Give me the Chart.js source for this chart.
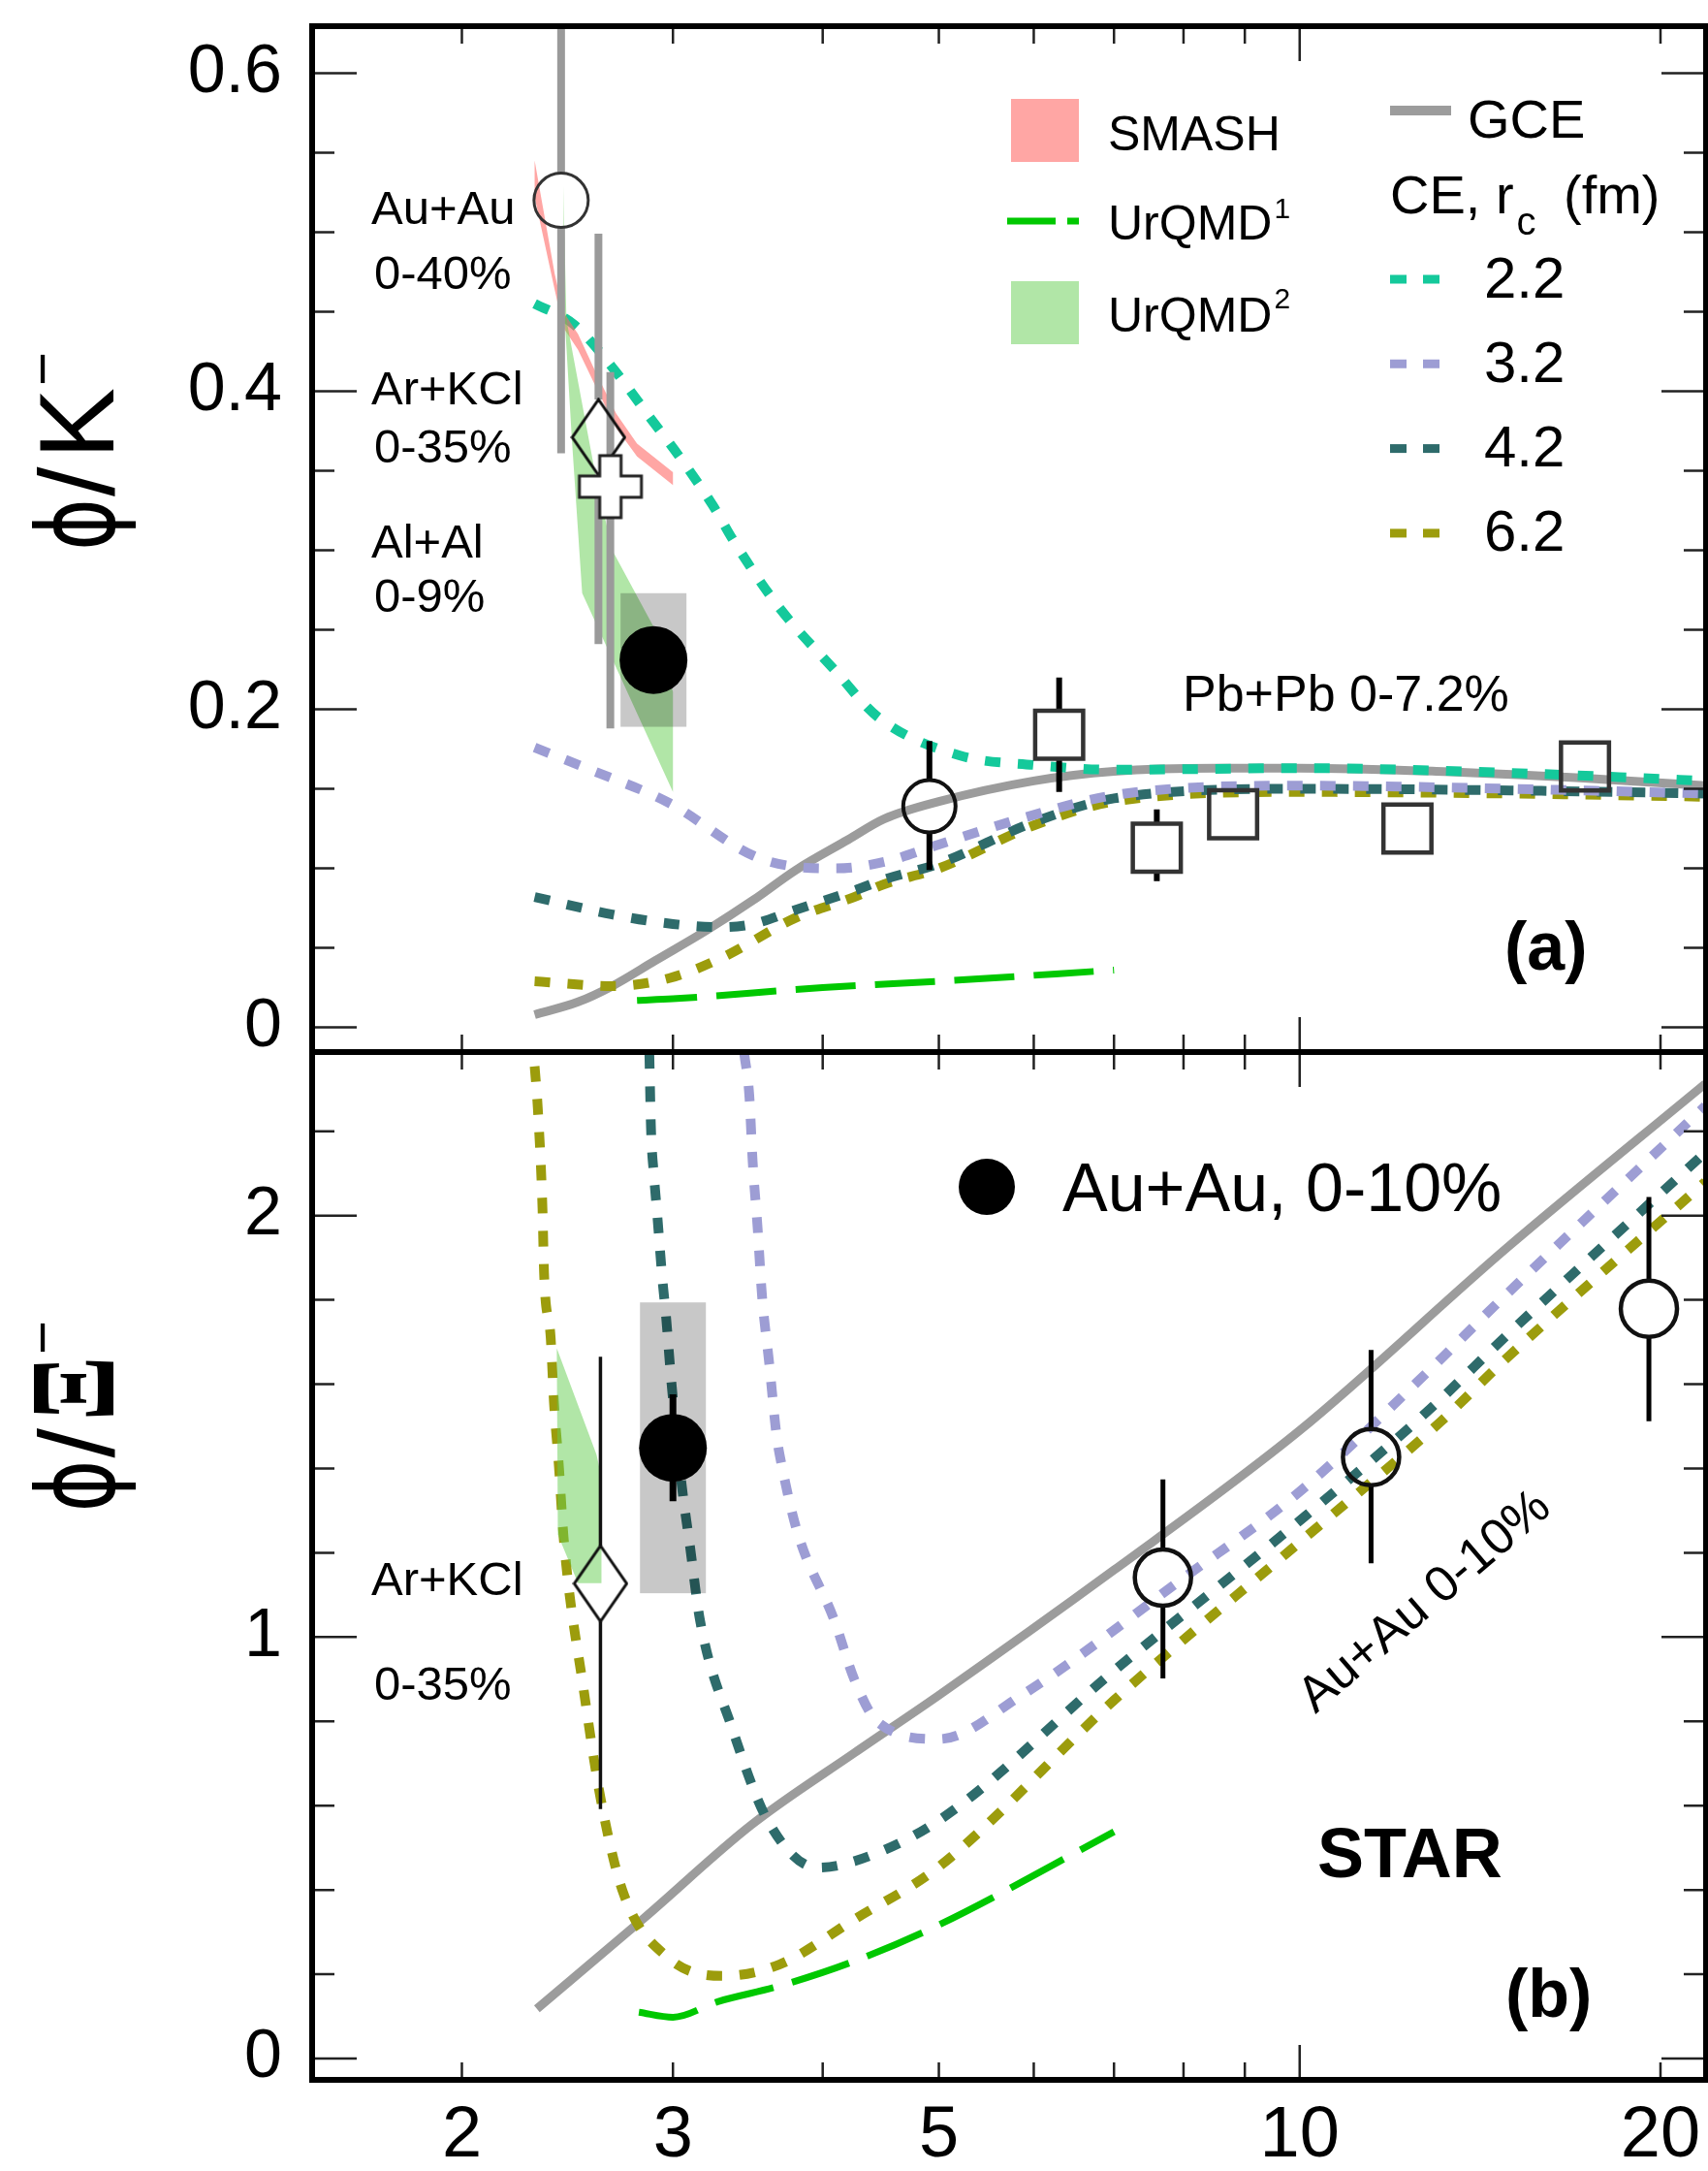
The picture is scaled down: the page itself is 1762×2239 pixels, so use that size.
<!DOCTYPE html>
<html>
<head>
<meta charset="utf-8">
<title>phi/K- and phi/Xi- versus collision energy</title>
<script src="https://cdn.jsdelivr.net/npm/chart.js@4.4.1/dist/chart.umd.min.js"></script>
<style>
  html, body { margin: 0; padding: 0; background: #fff; }
  #wrap { position: relative; width: 1762px; height: 2239px; background: #fff; }
  #top { position: absolute; left: 0; top: 0; }
  #bottom { position: absolute; left: 0; top: 1085px; }
</style>
</head>
<body>
<div id="wrap">
  <canvas id="top" width="1762" height="1085"></canvas>
  <canvas id="bottom" width="1762" height="1154"></canvas>
</div>
<script>
const FONT = "'Liberation Sans', Arial, Helvetica, sans-serif";
Chart.defaults.font.family = FONT;
Chart.defaults.color = '#000';

// sqrt(s_NN) axis (GeV), shared by both panels
const xTicks = [2, 3, 4, 5, 6, 7, 8, 9, 10, 20];
const xLabelled = [2, 3, 5, 10, 20];

// ---- panel (a): phi/K- ----
const yTicksA = [0, 0.05, 0.1, 0.15, 0.2, 0.25, 0.3, 0.35, 0.4, 0.45, 0.5, 0.55, 0.6];
const yLabelsA = { '0': '0', '0.2': '0.2', '0.4': '0.4', '0.6': '0.6' };

const gceA = [[2.30,0.008],[2.50,0.016],[2.67,0.026],[2.90,0.042],[3.20,0.061],[3.50,0.080],[3.80,0.099],[4.20,0.118],[4.50,0.131],[5.00,0.142],[6.00,0.155],[7.00,0.161],[8.50,0.163],[10,0.163],[13,0.161],[17,0.157],[21.8,0.152]];
const ce22A = [[2.30,0.455],[2.48,0.442],[2.67,0.415],[2.88,0.382],[3.03,0.360],[3.24,0.328],[3.37,0.306],[3.67,0.265],[4.10,0.224],[4.45,0.195],[5.20,0.171],[6.00,0.165],[7.00,0.162],[10,0.163],[15,0.160],[21.8,0.155]];
const ce32A = [[2.30,0.176],[2.54,0.163],[2.98,0.141],[3.50,0.108],[3.80,0.101],[4.10,0.100],[4.50,0.104],[5.00,0.115],[5.90,0.132],[7.00,0.146],[10,0.152],[15,0.150],[21.8,0.147]];
const ce42A = [[2.30,0.082],[2.67,0.071],[3.00,0.065],[3.30,0.063],[3.50,0.065],[3.80,0.074],[4.25,0.086],[4.50,0.093],[5.00,0.103],[6.00,0.129],[7.00,0.144],[10,0.150],[15,0.149],[21.8,0.147]];
const ce62A = [[2.30,0.029],[2.67,0.026],[2.98,0.031],[3.30,0.044],[3.80,0.069],[4.25,0.082],[4.50,0.090],[5.00,0.100],[6.00,0.127],[7.00,0.142],[10,0.148],[15,0.147],[21.8,0.145]];
const urqmd1A = [[2.80,0.017],[3.00,0.018],[4.00,0.025],[5.00,0.029],[7.00,0.036]];
const smashHiA = [[2.30,0.545],[2.39,0.474],[2.43,0.450],[2.50,0.436],[2.59,0.411],[2.69,0.386],[2.80,0.367],[3.00,0.349]];
const smashLoA = [[2.30,0.522],[2.39,0.464],[2.43,0.440],[2.50,0.426],[2.59,0.402],[2.69,0.377],[2.80,0.359],[3.00,0.341]];
const urqmd2HiA = [[2.43,0.529],[2.445,0.445],[2.59,0.344],[2.67,0.300],[2.89,0.252],[3.00,0.211]];
const urqmd2LoA = [[2.435,0.450],[2.47,0.371],[2.52,0.273],[3.00,0.148]];

// measurements: [x, y, low, high]
const auauA = [[2.42, 0.520, 0.361, 0.679]];
const arkclA = [[2.60, 0.371, 0.241, 0.499]];
const alalA = [[2.66, 0.340, 0.188, 0.412]];
const e917A = [[4.91, 0.139, 0.099, 0.180]];
const pbpbA = [[6.30,0.184,0.148,0.220],[7.60,0.113,0.092,0.137],[8.80,0.134,0.124,0.144],[12.3,0.125,0.115,0.135],[17.3,0.164,0.156,0.172]];
const starA = [[2.89, 0.231]];
const starSysA = [[2.89, 0.189, 0.273]];

// ---- panel (b): phi/Xi- ----
const yTicksB = [0, 0.2, 0.4, 0.6, 0.8, 1, 1.2, 1.4, 1.6, 1.8, 2, 2.2];
const yLabelsB = { '0': '0', '1': '1', '2': '2' };

const gceB = [[2.31,0.118],[2.84,0.334],[3.49,0.555],[4.25,0.725],[5.00,0.862],[7.00,1.159],[10,1.490],[14.9,1.924],[21.8,2.313]];
const ce32B = [[3.44,2.385],[3.474,2.285],[3.496,2.131],[3.53,1.970],[3.56,1.809],[3.61,1.648],[3.66,1.480],[3.70,1.403],[3.81,1.249],[4.09,1.040],[4.25,0.900],[4.44,0.800],[5.00,0.758],[5.84,0.859],[8.00,1.140],[10,1.345],[12.5,1.602],[14.9,1.815],[21.8,2.260]];
const ce42B = [[2.867,2.385],[2.876,2.208],[2.893,2.093],[2.911,2.001],[2.94,1.848],[2.96,1.763],[2.99,1.610],[3.05,1.364],[3.10,1.215],[3.16,1.040],[3.36,0.785],[3.60,0.564],[3.96,0.453],[4.25,0.468],[5.00,0.565],[7.00,0.920],[10,1.276],[12.8,1.537],[14.9,1.717],[21.8,2.150]];
const ce62B = [[2.30,2.354],[2.314,2.255],[2.335,2.016],[2.342,1.864],[2.372,1.710],[2.387,1.556],[2.41,1.403],[2.432,1.234],[2.529,0.869],[2.612,0.614],[2.727,0.393],[2.97,0.240],[3.30,0.196],[3.68,0.223],[4.25,0.330],[5.00,0.455],[7.00,0.850],[10,1.225],[13.1,1.510],[14.9,1.663],[21.8,2.080]];
const urqmd1B = [[2.81,0.110],[3.00,0.098],[3.27,0.135],[3.68,0.172],[4.25,0.231],[5.00,0.317],[7.00,0.538]];
const urqmd2HiB = [[2.40,1.685],[2.59,1.433],[2.615,1.380]];
const urqmd2LoB = [[2.405,1.243],[2.50,1.128],[2.615,1.128]];

const arkclB = [[2.61, 1.127, 0.592, 1.665]];
const auauB = [[7.69,1.141,0.902,1.374],[11.47,1.427,1.175,1.681],[19.56,1.779,1.512,2.044]];
const starB = [[3.00, 1.449, 1.322, 1.576]];
const starSysB = [[3.00, 1.104, 1.794]];

// colours
const C_GCE = '#9c9c9c';
const C_CE22 = '#14c99b';
const C_CE32 = '#9d9dd4';
const C_CE42 = '#2e6b6b';
const C_CE62 = '#9c9c0c';
const C_URQMD1 = '#00c800';
const C_SMASH = 'rgba(255,107,103,0.6)';
const C_URQMD2 = 'rgba(100,205,80,0.5)';
const C_SYS = '#c8c8c8';
const C_HADES = '#9a9a9a';

const CE_DASH = [16, 18];
const CE_WIDTH = 10;

const pts = arr => arr.map(p => ({ x: p[0], y: p[1] }));

function curve(data, color, width, dash) {
  return { data: pts(data), borderColor: color, borderWidth: width, borderDash: dash,
           pointRadius: 0, fill: false, cubicInterpolationMode: 'monotone' };
}
function band(hi, lo, color, barsAfter) {
  return { data: pts(hi.concat(lo.slice().reverse())), backgroundColor: color,
           borderColor: 'transparent', borderWidth: 0, pointRadius: 0, tension: 0,
           fill: 'shape', barsAfter: !!barsAfter };
}
function marker(data, style) {
  return Object.assign({ data: pts(data), showLine: false, pointBackgroundColor: 'rgba(0,0,0,0)' }, style);
}

// open diamond and open cross markers
const diamondImg = document.createElement('canvas');
diamondImg.width = 58; diamondImg.height = 82;
(() => {
  const c = diamondImg.getContext('2d');
  c.beginPath();
  c.moveTo(29, 2); c.lineTo(56, 41); c.lineTo(29, 80); c.lineTo(2, 41); c.closePath();
  c.lineWidth = 3; c.strokeStyle = '#111'; c.stroke();
})();
const crossImg = document.createElement('canvas');
crossImg.width = 70; crossImg.height = 70;
(() => {
  const c = crossImg.getContext('2d');
  const m = 35, a = 11, e = 32;
  c.beginPath();
  c.moveTo(m - a, m - e); c.lineTo(m + a, m - e); c.lineTo(m + a, m - a); c.lineTo(m + e, m - a);
  c.lineTo(m + e, m + a); c.lineTo(m + a, m + a); c.lineTo(m + a, m + e); c.lineTo(m - a, m + e);
  c.lineTo(m - a, m + a); c.lineTo(m - e, m + a); c.lineTo(m - e, m - a); c.lineTo(m - a, m - a);
  c.closePath();
  c.fillStyle = '#fff'; c.fill();
  c.lineWidth = 3; c.strokeStyle = '#222'; c.stroke();
})();

function text(ctx, s, x, y, size, bold) {
  ctx.font = (bold ? 'bold ' : '') + size + 'px ' + FONT;
  ctx.textAlign = 'left';
  ctx.textBaseline = 'alphabetic';
  ctx.fillStyle = '#000';
  ctx.fillText(s, x, y);
  return ctx.measureText(s).width;
}

function drawBars(chart, sets) {
  const { ctx, chartArea: a, scales: { x, y } } = chart;
  ctx.save();
  ctx.beginPath(); ctx.rect(a.left, a.top, a.right - a.left, a.bottom - a.top); ctx.clip();
  for (const s of sets) {
    ctx.strokeStyle = s.color; ctx.lineWidth = s.width;
    ctx.beginPath();
    for (const [vx, vy, lo, hi] of s.data) {
      const px = x.getPixelForValue(vx), py = y.getPixelForValue(vy);
      const pHi = y.getPixelForValue(hi), pLo = y.getPixelForValue(lo);
      if (pHi < py - s.gap) { ctx.moveTo(px, py - s.gap); ctx.lineTo(px, pHi); }
      if (pLo > py + s.gap) { ctx.moveTo(px, py + s.gap); ctx.lineTo(px, pLo); }
    }
    ctx.stroke();
  }
  ctx.restore();
}

// systematic uncertainty boxes
function drawBoxes(chart, boxes) {
  const { ctx, scales: { x, y } } = chart;
  ctx.save();
  ctx.globalCompositeOperation = 'multiply';
  ctx.fillStyle = C_SYS;
  for (const [vx, lo, hi] of boxes) {
    const px = x.getPixelForValue(vx);
    const top = y.getPixelForValue(hi), bot = y.getPixelForValue(lo);
    ctx.fillRect(px - 34, top, 68, bot - top);
  }
  ctx.restore();
}

// frame with inward ticks on all four sides
function drawFrame(chart, yTicks, yLabels) {
  const { ctx, chartArea: a, scales: { x, y } } = chart;
  ctx.save();
  ctx.strokeStyle = '#222'; ctx.lineWidth = 2.5;
  ctx.beginPath();
  for (const v of yTicks) {
    const py = y.getPixelForValue(v);
    const len = (String(v) in yLabels) ? 46 : 23;
    ctx.moveTo(a.left, py); ctx.lineTo(a.left + len, py);
    ctx.moveTo(a.right, py); ctx.lineTo(a.right - len, py);
  }
  for (const v of xTicks) {
    const px = x.getPixelForValue(v);
    const len = v === 10 ? 36 : 18;
    ctx.moveTo(px, a.top); ctx.lineTo(px, a.top + len);
    ctx.moveTo(px, a.bottom); ctx.lineTo(px, a.bottom - len);
  }
  ctx.stroke();
  ctx.strokeStyle = '#000'; ctx.lineWidth = 6;
  ctx.strokeRect(a.left, a.top, a.right - a.left, a.bottom - a.top);
  ctx.restore();
}

function drawYTitle(ctx, x0, y0, particle, serif) {
  ctx.save();
  ctx.translate(x0, y0);
  ctx.rotate(-Math.PI / 2);
  ctx.fillStyle = '#000';
  ctx.textAlign = 'left';
  ctx.textBaseline = 'alphabetic';
  ctx.font = "110px 'DejaVu Sans'";
  const wPhi = ctx.measureText('ϕ').width;
  ctx.save(); ctx.scale(54 / wPhi, 1); ctx.fillText('ϕ', 0, 0); ctx.restore();
  ctx.font = '110px ' + FONT;
  ctx.fillText('/', 56, 0);
  let pos = 56 + ctx.measureText('/').width + 8;
  if (serif) {
    ctx.font = "bold 124px 'Liberation Serif', serif";
    const w = ctx.measureText(particle).width;
    ctx.save(); ctx.translate(pos, 0); ctx.scale(66 / w, 1); ctx.fillText(particle, 0, 0); ctx.restore();
    pos += 66;
  } else {
    ctx.fillText(particle, pos, 0);
    pos += ctx.measureText(particle).width;
  }
  ctx.font = '60px ' + FONT;
  ctx.fillText('\u2212', pos + 2, -53);
  ctx.restore();
}

function dashSample(ctx, x0, x1, y, color, width, dash) {
  ctx.save();
  ctx.strokeStyle = color; ctx.lineWidth = width; ctx.setLineDash(dash);
  ctx.beginPath(); ctx.moveTo(x0, y); ctx.lineTo(x1, y); ctx.stroke();
  ctx.restore();
}

function decorateTop(chart) {
  const ctx = chart.ctx;
  ctx.save();
  text(ctx, 'Au+Au', 383, 231, 49); text(ctx, '0-40%', 386, 298, 49);
  text(ctx, 'Ar+KCl', 383, 417, 49); text(ctx, '0-35%', 386, 477, 49);
  text(ctx, 'Al+Al', 383, 575, 49); text(ctx, '0-9%', 386, 631, 49);
  text(ctx, 'Pb+Pb 0-7.2%', 1220, 733, 52);
  text(ctx, '(a)', 1552, 1000, 70, true);

  // transport models
  ctx.fillStyle = C_SMASH; ctx.fillRect(1043, 102, 70, 65);
  text(ctx, 'SMASH', 1143, 155, 50);
  dashSample(ctx, 1039, 1113, 228, C_URQMD1, 7, [50, 12]);
  let w = text(ctx, 'UrQMD', 1143, 247, 50);
  text(ctx, '1', 1143 + w + 2, 225, 30);
  ctx.fillStyle = C_URQMD2; ctx.fillRect(1043, 290, 70, 65);
  w = text(ctx, 'UrQMD', 1143, 342, 50);
  text(ctx, '2', 1143 + w + 2, 318, 30);

  // statistical model
  dashSample(ctx, 1434, 1497, 114, C_GCE, 10, []);
  text(ctx, 'GCE', 1514, 142, 56);
  w = text(ctx, 'CE, r', 1434, 220, 56);
  text(ctx, 'c', 1434 + w + 3, 242, 40);
  text(ctx, '(fm)', 1613, 220, 56);
  const ce = [['2.2', C_CE22], ['3.2', C_CE32], ['4.2', C_CE42], ['6.2', C_CE62]];
  ce.forEach(([lab, col], i) => {
    dashSample(ctx, 1434, 1485, 288 + i * 87.3, col, 9, [17, 17]);
    text(ctx, lab, 1531, 307 + i * 87, 60);
  });

  drawYTitle(ctx, 117, 568, 'K', false);
  ctx.restore();
}

function decorateBottom(chart) {
  const ctx = chart.ctx;
  ctx.save();
  text(ctx, 'Ar+KCl', 383, 560, 49); text(ctx, '0-35%', 386, 668, 49);
  ctx.fillStyle = '#000';
  ctx.beginPath(); ctx.arc(1018, 139, 29, 0, Math.PI * 2); ctx.fill();
  text(ctx, 'Au+Au, 0-10%', 1096, 164, 70);
  text(ctx, 'STAR', 1359, 851, 72, true);
  text(ctx, '(b)', 1553, 995, 70, true);
  ctx.save();
  ctx.translate(1357, 683);
  ctx.rotate(-40.5 * Math.PI / 180);
  text(ctx, 'Au+Au 0-10%', 0, 0, 52);
  ctx.restore();
  drawYTitle(ctx, 117, 474.5, '\u039E', true);
  ctx.restore();
}

function panelPlugin(name, cfg) {
  return {
    id: 'panel' + name,
    afterDatasetDraw(chart, args) {
      if (chart.data.datasets[args.index].barsAfter) drawBars(chart, cfg.bars);
    },
    afterDatasetsDraw(chart) { drawBoxes(chart, cfg.boxes); },
    afterDraw(chart) { drawFrame(chart, cfg.yTicks, cfg.yLabels); cfg.decorate(chart); }
  };
}

function xScale(show) {
  const s = {
    type: 'logarithmic', min: 1.5, max: 21.83, bounds: 'data', display: show,
    grid: { display: false, drawTicks: false }, border: { display: false },
    afterBuildTicks: sc => { sc.ticks = xTicks.map(v => ({ value: v })); },
    ticks: { padding: 14, autoSkip: false, maxRotation: 0, minRotation: 0, font: { size: 74 },
             callback: v => xLabelled.includes(v) ? String(v) : '' }
  };
  if (show) s.afterFit = sc => { sc.height = 94; sc.paddingLeft = 0; sc.paddingRight = 0; };
  return s;
}
function yScale(min, max, ticks, labels) {
  return {
    min, max, bounds: 'data',
    grid: { display: false, drawTicks: false }, border: { display: false },
    afterBuildTicks: sc => { sc.ticks = ticks.map(v => ({ value: v })); },
    afterFit: sc => { sc.width = 322; sc.paddingTop = 0; sc.paddingBottom = 0; },
    ticks: { padding: 31, autoSkip: false, font: { size: 70 }, callback: v => labels[String(v)] ?? '' }
  };
}
const common = {
  responsive: false, animation: false, devicePixelRatio: 1, events: [],
  plugins: { legend: { display: false }, tooltip: { enabled: false } }
};

// panel (a)
new Chart(document.getElementById('top'), {
  type: 'line',
  data: { datasets: [
    marker(starA, { pointStyle: 'circle', pointRadius: 35, pointBackgroundColor: '#000', pointBorderWidth: 0 }),
    marker(alalA, { pointStyle: crossImg, pointRadius: 30 }),
    marker(arkclA, { pointStyle: diamondImg, pointRadius: 30 }),
    marker(auauA, { pointStyle: 'circle', pointRadius: 28, pointBorderColor: '#333', pointBorderWidth: 3 }),
    marker(e917A, { pointStyle: 'circle', pointRadius: 27, pointBorderColor: '#111', pointBorderWidth: 4 }),
    marker(pbpbA, { pointStyle: 'rect', pointRadius: 35, pointBorderColor: '#333', pointBorderWidth: 4.5 }),
    band(urqmd2HiA, urqmd2LoA, C_URQMD2, true),
    band(smashHiA, smashLoA, C_SMASH),
    curve(urqmd1A, C_URQMD1, 7, [62, 20]),
    curve(ce22A, C_CE22, CE_WIDTH, CE_DASH),
    curve(ce32A, C_CE32, CE_WIDTH, CE_DASH),
    curve(ce42A, C_CE42, CE_WIDTH, CE_DASH),
    curve(ce62A, C_CE62, CE_WIDTH, CE_DASH),
    curve(gceA, C_GCE, 9, [])
  ] },
  options: Object.assign({}, common, {
    layout: { autoPadding: false, padding: { top: 27, right: 2, bottom: 0, left: 0 } },
    scales: { x: xScale(false), y: yScale(-0.0155, 0.6295, yTicksA, yLabelsA) }
  }),
  plugins: [panelPlugin('A', {
    yTicks: yTicksA, yLabels: yLabelsA, decorate: decorateTop,
    boxes: starSysA,
    bars: [
      { data: auauA, color: C_HADES, width: 8, gap: 28 },
      { data: arkclA, color: C_HADES, width: 8, gap: 39 },
      { data: alalA, color: C_HADES, width: 8, gap: 32 },
      { data: e917A, color: '#000', width: 6, gap: 27 },
      { data: pbpbA, color: '#000', width: 6, gap: 25 }
    ]
  })]
});

// panel (b)
new Chart(document.getElementById('bottom'), {
  type: 'line',
  data: { datasets: [
    marker(starB, { pointStyle: 'circle', pointRadius: 35, pointBackgroundColor: '#000', pointBorderWidth: 0 }),
    marker(auauB, { pointStyle: 'circle', pointRadius: 29, pointBorderColor: '#111', pointBorderWidth: 4.5 }),
    marker(arkclB, { pointStyle: diamondImg, pointRadius: 30 }),
    band(urqmd2HiB, urqmd2LoB, C_URQMD2, true),
    curve(urqmd1B, C_URQMD1, 7, [62, 20]),
    curve(ce32B, C_CE32, CE_WIDTH, CE_DASH),
    curve(ce42B, C_CE42, CE_WIDTH, CE_DASH),
    curve(ce62B, C_CE62, CE_WIDTH, CE_DASH),
    curve(gceB, C_GCE, 9, [])
  ] },
  options: Object.assign({}, common, {
    layout: { autoPadding: false, padding: { top: 0, right: 2, bottom: 0, left: 0 } },
    scales: { x: xScale(true), y: yScale(-0.0506, 2.388, yTicksB, yLabelsB) }
  }),
  plugins: [panelPlugin('B', {
    yTicks: yTicksB, yLabels: yLabelsB, decorate: decorateBottom,
    boxes: starSysB,
    bars: [
      { data: arkclB, color: '#111', width: 3.5, gap: 39 },
      { data: auauB, color: '#000', width: 5, gap: 29 },
      { data: starB, color: '#000', width: 7, gap: 34 }
    ]
  })]
});
</script>
</body>
</html>
